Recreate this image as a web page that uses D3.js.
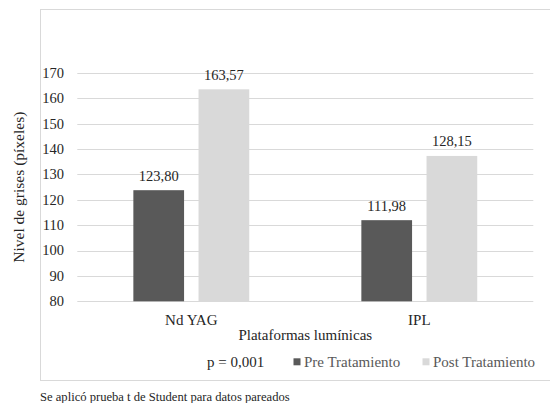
<!DOCTYPE html>
<html>
<head>
<meta charset="utf-8">
<script src="https://cdn.jsdelivr.net/npm/d3@7"></script>
<style>
  html, body { margin: 0; padding: 0; background: #fff; }
  svg { display: block; }
</style>
</head>
<body>
<svg id="chart" width="550" height="403"></svg>
<script>
// ---- data ----
const categories = ["Nd YAG", "IPL"];
const seriesNames = ["Pre Tratamiento", "Post Tratamiento"];
const preValues = [123.80, 111.98];
const postValues = [163.57, 137.3];          // bar heights as drawn
const preLabels = ["123,80", "111,98"];
const postLabels = ["163,57", "128,15"];     // labels as printed
const yTicks = [80, 90, 100, 110, 120, 130, 140, 150, 160, 170];
const yTitle = "Nivel de grises (píxeles)";
const xTitle = "Plataformas lumínicas";
const pText = "p = 0,001";
const footnote = "Se aplicó prueba t de Student para datos pareados";
const colors = ["#595959", "#d9d9d9"];

const FONT = "Liberation Serif";

// ---- layout ----
const svg = d3.select("#chart");
const plot = { left: 77.3, right: 533.3, top: 73, bottom: 301.3 };

// chart frame
svg.append("rect")
  .attr("x", 40.5).attr("y", 9.5)
  .attr("width", 540).attr("height", 371)
  .attr("fill", "#fff").attr("stroke", "#d9d9d9").attr("stroke-width", 1);

const y = d3.scaleLinear().domain([80, 170]).range([plot.bottom, plot.top]);
const x0 = d3.scaleBand().domain(categories).range([plot.left, plot.right]).paddingInner(0).paddingOuter(0);
const x1 = d3.scaleBand().domain(seriesNames).range([0, x0.bandwidth()]).paddingInner(0.222).paddingOuter(0.86);

// gridlines
svg.append("g").selectAll("line").data(yTicks).join("line")
  .attr("x1", plot.left).attr("x2", plot.right)
  .attr("y1", d => Math.round(y(d)) + 0.5).attr("y2", d => Math.round(y(d)) + 0.5)
  .attr("stroke", "#d9d9d9").attr("stroke-width", 1);

// y tick labels
svg.append("g").selectAll("text").data(yTicks).join("text")
  .attr("x", 64).attr("y", d => y(d))
  .attr("dy", "0.34em")
  .attr("text-anchor", "end")
  .style("font-size", "14.5px")
  .text(d => d);

// bars
const rows = categories.map((c, i) => ({
  cat: c,
  items: [
    { s: seriesNames[0], v: preValues[i], label: preLabels[i], color: colors[0] },
    { s: seriesNames[1], v: postValues[i], label: postLabels[i], color: colors[1] }
  ]
}));

const groups = svg.append("g").selectAll("g").data(rows).join("g")
  .attr("transform", d => `translate(${x0(d.cat)},0)`);

groups.selectAll("rect").data(d => d.items).join("rect")
  .attr("x", d => x1(d.s))
  .attr("width", x1.bandwidth())
  .attr("y", d => y(d.v))
  .attr("height", d => y(80) - y(d.v))
  .attr("fill", d => d.color);

groups.selectAll("text").data(d => d.items).join("text")
  .attr("x", d => x1(d.s) + x1.bandwidth() / 2)
  .attr("y", d => y(d.v) - 9.5)
  .attr("text-anchor", "middle")
  .style("font-size", "14.5px")
  .text(d => d.label);

// category labels
svg.append("g").selectAll("text").data(categories).join("text")
  .attr("x", d => x0(d) + x0.bandwidth() / 2)
  .attr("y", 325)
  .attr("text-anchor", "middle")
  .style("font-size", "15px")
  .text(d => d);

// x title
svg.append("text")
  .attr("x", (plot.left + plot.right) / 2).attr("y", 339.5)
  .attr("text-anchor", "middle")
  .style("font-size", "15px")
  .text(xTitle);

// y title
svg.append("text")
  .attr("transform", `translate(24,${(plot.top + plot.bottom) / 2}) rotate(-90)`)
  .attr("text-anchor", "middle")
  .style("font-size", "15.5px")
  .text(yTitle);

// legend
const legY = 367;
svg.append("text").attr("x", 207).attr("y", legY)
  .style("font-size", "15px").text(pText);
const legX = [293.5, 422.5];
seriesNames.forEach((s, i) => {
  svg.append("rect").attr("x", legX[i]).attr("y", legY - 8.7)
    .attr("width", 7).attr("height", 7).attr("fill", colors[i]);
  svg.append("text").attr("x", legX[i] + 10.5).attr("y", legY)
    .attr("class", "leg")
    .style("font-size", "15px").text(s);
});

// footnote
svg.append("text").attr("x", 40).attr("y", 400.5)
  .style("font-size", "12.6px").text(footnote);

// font + colour for all text
svg.selectAll("text")
  .style("font-family", FONT)
  .style("fill", "#262626");
svg.selectAll("text.leg").style("fill", "#595959");
</script>
</body>
</html>
